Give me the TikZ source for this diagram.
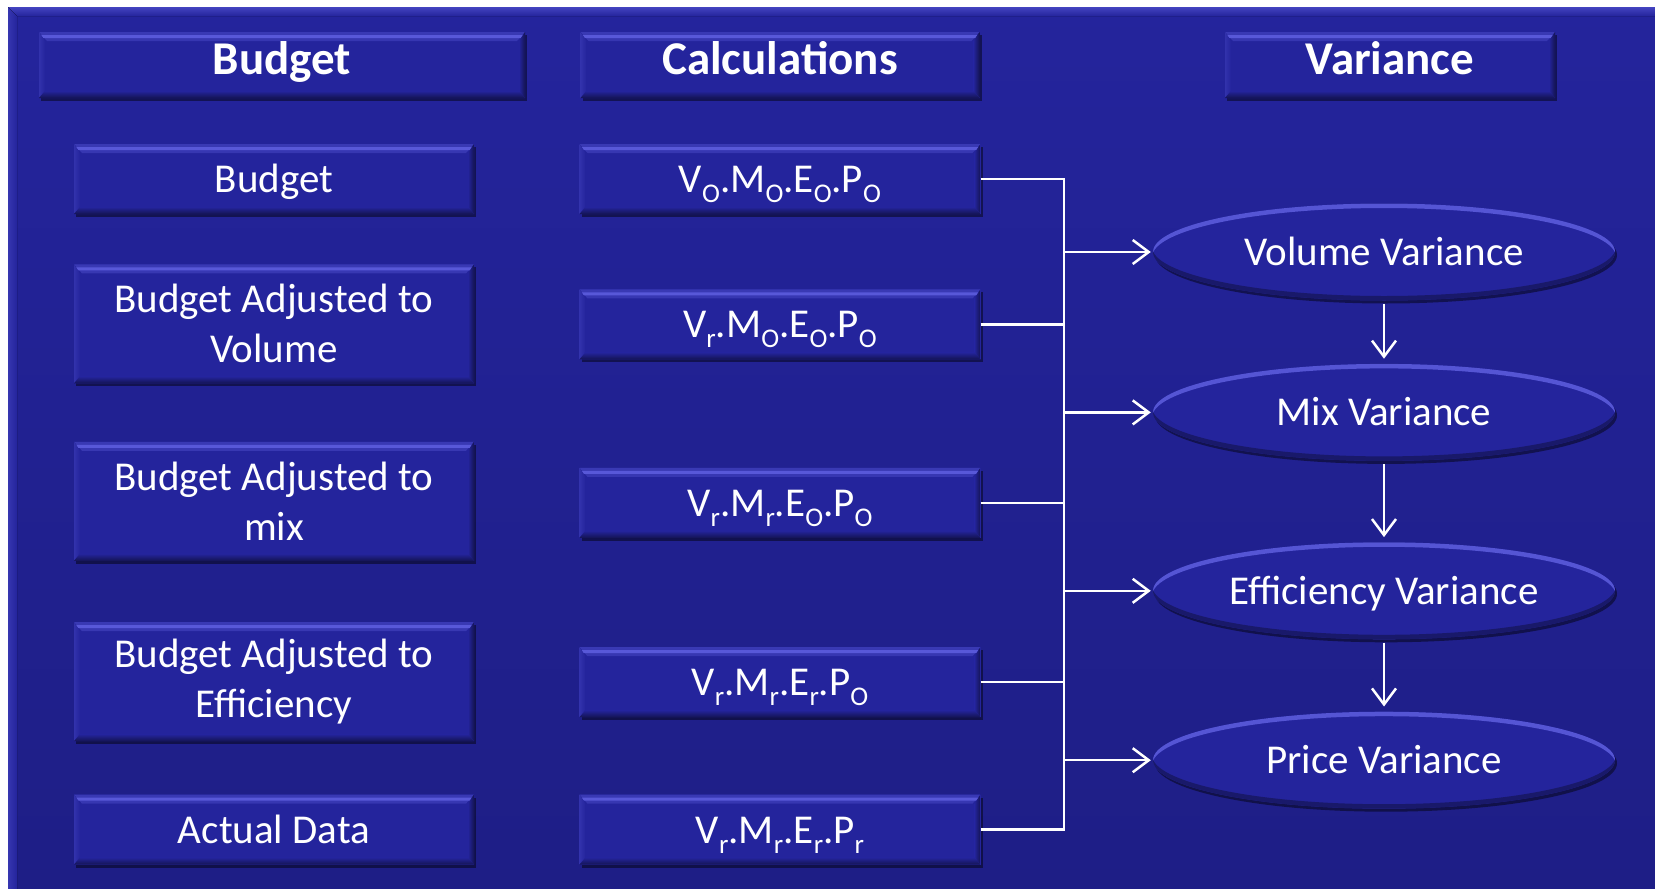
\documentclass[tikz,border=0pt]{standalone}
\usepackage{fontspec}
\setmainfont{Carlito}
\usepackage{xcolor}
\definecolor{varBlue}{RGB}{36, 36, 156}
\definecolor{varBlueLow}{RGB}{30, 30, 134}
\definecolor{varRim}{RGB}{106, 106, 236}
\definecolor{varShade}{RGB}{20, 20, 84}
\usepackage{tikz}
\usetikzlibrary{shapes.geometric, arrows.meta, positioning, shadows}

\newcommand{\vsub}[1]{\raisebox{-10pt}{\fontsize{27}{27}\selectfont #1}}

\begin{document}
\begin{tikzpicture}[x=1pt, y=1pt,
  box/.style={rectangle, minimum width=400pt, minimum height=70pt, inner sep=0pt,
              align=center, text=white, fill=varBlue,
              font=\fontsize{41}{50}\selectfont,
              drop shadow={shadow xshift=2pt, shadow yshift=-3pt, opacity=0.45, fill=black},
              path picture={
                \fill[top color=varBlue!70!varRim, bottom color=varBlue]
                  (path picture bounding box.north west)
                  -- (path picture bounding box.north east)
                  -- ([shift={(-8pt,-9pt)}]path picture bounding box.north east)
                  -- ([shift={(8pt,-9pt)}]path picture bounding box.north west) -- cycle;
                \fill[varRim!75!varBlue]
                  ([yshift=-3pt]path picture bounding box.north west)
                  -- ([yshift=-3pt]path picture bounding box.north east)
                  -- ([shift={(-4pt,-6pt)}]path picture bounding box.north east)
                  -- ([shift={(4pt,-6pt)}]path picture bounding box.north west) -- cycle;
                \fill[left color=varBlue!80!varRim, right color=varBlue]
                  (path picture bounding box.north west)
                  -- ([shift={(6pt,-9pt)}]path picture bounding box.north west)
                  -- ([shift={(6pt,6pt)}]path picture bounding box.south west)
                  -- (path picture bounding box.south west) -- cycle;
                \fill[left color=varBlue, right color=varShade]
                  (path picture bounding box.north east)
                  -- ([shift={(-6pt,-9pt)}]path picture bounding box.north east)
                  -- ([shift={(-6pt,6pt)}]path picture bounding box.south east)
                  -- (path picture bounding box.south east) -- cycle;
                \fill[top color=varBlue, bottom color=varShade]
                  (path picture bounding box.south west)
                  -- (path picture bounding box.south east)
                  -- ([shift={(-6pt,7pt)}]path picture bounding box.south east)
                  -- ([shift={(6pt,7pt)}]path picture bounding box.south west) -- cycle;}},
  line1/.style={text height=27pt, text depth=0pt},
  tall/.style={box, minimum height=119pt},
  hdr/.style={box, minimum height=66pt, text height=30pt, text depth=12pt,
              font=\fontsize{47}{56}\selectfont\bfseries},
  oval/.style={ellipse, minimum width=462pt, minimum height=97pt, inner sep=0pt,
               text height=27pt, text depth=0pt,
               text=white, fill=varBlue, font=\fontsize{41}{50}\selectfont,
               drop shadow={shadow xshift=2pt, shadow yshift=-3pt, opacity=0.45, fill=black},
               path picture={
                 \fill[varRim!70!varBlue, even odd rule]
                   (path picture bounding box.south west) rectangle (path picture bounding box.north east)
                   ([yshift=-5pt]path picture bounding box.center) ellipse [x radius=232pt, y radius=49pt];
                 \fill[varShade!70!varBlue, even odd rule]
                   (path picture bounding box.south west) rectangle (path picture bounding box.north east)
                   ([yshift=5pt]path picture bounding box.center) ellipse [x radius=232pt, y radius=49pt];}},
  wire/.style={white, line width=2.5pt},
  arrow/.style={wire, -{Straight Barb[length=16pt, width=24pt]}},
]
  \useasboundingbox (0,0) rectangle (1655,-889);
  % backdrop
  \fill[top color=varBlue, bottom color=varBlueLow] (8,-7) rectangle (1655,-889);
  \fill[top color=varBlue!55!varRim, bottom color=varBlue]
    (8,-7) -- (1655,-7) -- (1655,-16) -- (17,-16) -- cycle;
  \fill[left color=varBlue!75!varRim, right color=varBlue]
    (8,-7) -- (17,-16) -- (17,-889) -- (8,-889) -- cycle;

  % column heads
  \node[hdr, minimum width=486pt] (hBudget) at (282,-65) {Budget};
  \node[hdr, minimum width=399pt] (hCalc) at (780,-65) {Calculations};
  \node[hdr, minimum width=330pt] (hVar) at (1390,-65) {Variance};

  % budget column
  \node[box, line1] (b1) at (274,-179) {Budget};
  \node[tall, below=50pt of b1] (b2) {Budget Adjusted to\\Volume};
  \node[tall, below=58pt of b2] (b3) {Budget Adjusted to\\mix};
  \node[tall, below=61pt of b3] (b4) {Budget Adjusted to\\Efficiency};
  \node[box, line1, below=53pt of b4] (b5) {Actual Data};

  % calculations column
  \node[box, line1, minimum width=401pt] (c1) at (780,-179)
    {V\vsub{O}.M\vsub{O}.E\vsub{O}.P\vsub{O}};
  \node[box, line1, minimum width=401pt, below=75pt of c1] (c2)
    {V\vsub{r}.M\vsub{O}.E\vsub{O}.P\vsub{O}};
  \node[box, line1, minimum width=401pt, below=108pt of c2] (c3)
    {V\vsub{r}.M\vsub{r}.E\vsub{O}.P\vsub{O}};
  \node[box, line1, minimum width=401pt, below=109pt of c3] (c4)
    {V\vsub{r}.M\vsub{r}.E\vsub{r}.P\vsub{O}};
  \node[box, line1, minimum width=401pt, below=77pt of c4] (c5)
    {V\vsub{r}.M\vsub{r}.E\vsub{r}.P\vsub{r}};

  % variance column
  \node[oval] (v1) at (1384,-252) {Volume Variance};
  \node[oval, below=63pt of v1] (v2) {Mix Variance};
  \node[oval, below=81pt of v2] (v3) {Efficiency Variance};
  \node[oval, below=72pt of v3] (v4) {Price Variance};

  \coordinate (bus) at (1064,0);
  \draw[wire] (c1.east) -- (c1.east -| bus) -- (c5.east -| bus) -- (c5.east);
  \foreach \c in {c2,c3,c4}
    \draw[wire] (\c.east) -- (\c.east -| bus);
  \foreach \v in {v1,v2,v3,v4}
    \draw[arrow, shorten >=2pt] (\v.west -| bus) -- (\v.west);

  \draw[arrow, shorten <=3pt, shorten >=5pt] (v1) -- (v2);
  \draw[arrow, shorten <=3pt, shorten >=5pt] (v2) -- (v3);
  \draw[arrow, shorten <=3pt, shorten >=5pt] (v3) -- (v4);
\end{tikzpicture}
\end{document}
